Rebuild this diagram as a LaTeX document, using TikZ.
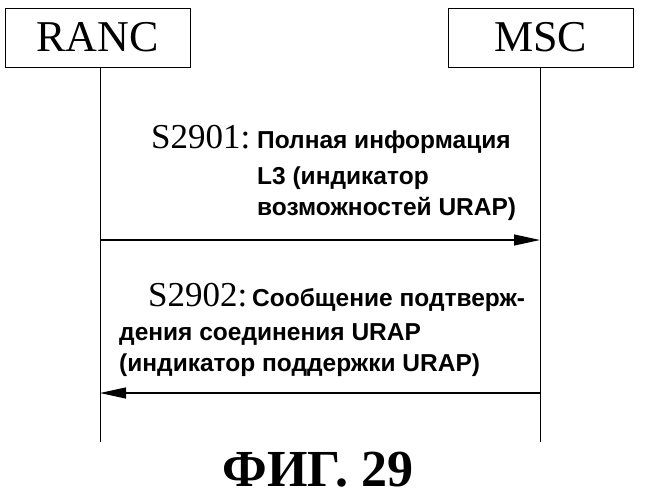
\documentclass[tikz,border=0pt]{standalone}
\usepackage{fontspec}
\setmainfont{Liberation Serif}
\newfontfamily\rusf{Liberation Sans}
\usetikzlibrary{arrows.meta}
\begin{document}
\begin{tikzpicture}[x=1pt,y=-1pt,
  ent/.style={draw,line width=0.8pt,minimum width=185pt,minimum height=59pt,font=\fontsize{44}{48}\selectfont},
  msg/.style={line width=1.2pt,-{Triangle[length=26pt,width=11pt]}},
  ser/.style={anchor=base west,inner sep=0pt,font=\fontsize{35}{40}\selectfont},
  rus/.style={anchor=base west,inner sep=0pt,font=\rusf\bfseries\fontsize{24.5}{28}\selectfont}]
\useasboundingbox (0,0) rectangle (646,499);
\node[ent] (ranc) at (97.5,37.5) {RANC};
\node[ent] (msc) at (540.5,37.5) {MSC};
\coordinate (re) at (100,442);
\coordinate (me) at (540,442);
\draw[line width=0.8pt] (ranc.south -| re) -- (re);
\draw[line width=0.8pt] (msc.south -| me) -- (me);
\coordinate (a1s) at (100,240); \coordinate (a1e) at (540,240);
\coordinate (a2s) at (540,393); \coordinate (a2e) at (100,393);
\draw[msg] (a1s) -- (a1e);
\draw[msg] (a2s) -- (a2e);
\node[ser] (s1) at (151,148) {S2901:};
\node[rus] (t1a) at (257,148) {Полная информация};
\node[rus] (t1b) at (257,184) {L3 (индикатор};
\node[rus] (t1c) at (257,215) {возможностей URAP)};
\node[ser] (s2) at (148,306) {S2902:};
\node[rus] (t2a) at (252,306) {Сообщение подтверж-};
\node[rus] (t2b) at (119,340) {дения соединения URAP};
\node[rus] (t2c) at (119,371) {(индикатор поддержки URAP)};
\node (fig) at (318,470) {\bfseries\fontsize{52}{56}\selectfont ФИГ. 29};
\end{tikzpicture}
\end{document}
